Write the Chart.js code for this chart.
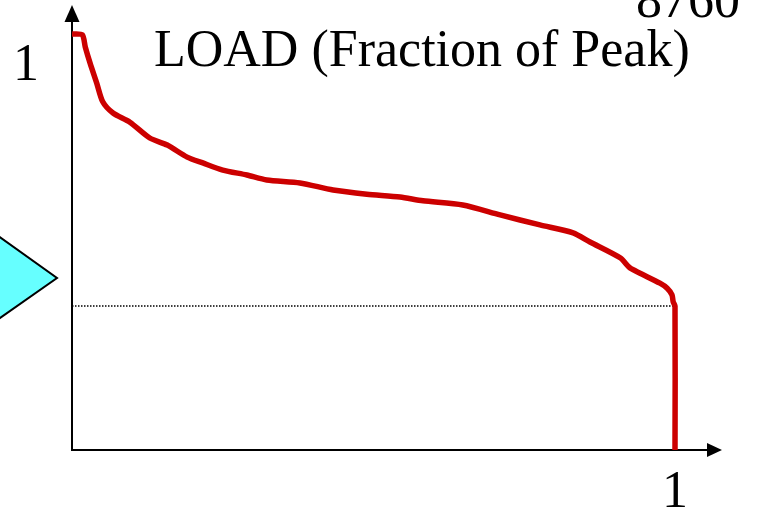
<!DOCTYPE html>
<html lang="en">
<head>
  <meta charset="UTF-8">
  <title>Load Duration Curve</title>
  <script src="https://cdn.jsdelivr.net/npm/chart.js"></script>
  <style>
    html, body { margin: 0; padding: 0; background: #ffffff; }
    .wrap { width: 768px; height: 509px; position: relative; }
  </style>
</head>
<body>
  <div class="wrap">
    <canvas id="ldc" width="768" height="509"></canvas>
  </div>

  <script>
    // fraction of the year (0..1) vs load as fraction of peak
    const durationX = [0, 0.017, 0.022, 0.030, 0.041, 0.051, 0.068, 0.096, 0.129, 0.158,
                       0.191, 0.217, 0.250, 0.290, 0.323, 0.378, 0.433, 0.489, 0.544, 0.582,
                       0.648, 0.710, 0.776, 0.831, 0.859, 0.909, 0.925, 0.942, 0.975, 0.987,
                       0.995, 0.997, 1.0, 1.0];
    const loadY = [1.0, 0.998, 0.969, 0.930, 0.882, 0.837, 0.810, 0.788, 0.750, 0.733,
                   0.704, 0.690, 0.673, 0.661, 0.649, 0.642, 0.625, 0.615, 0.608, 0.599,
                   0.589, 0.565, 0.541, 0.522, 0.500, 0.462, 0.438, 0.425, 0.401, 0.389,
                   0.373, 0.356, 0.346, 0];
    const minLoad = 0.346;
    const titleText = 'LOAD (Fraction of Peak)';
    const hoursText = '8760';
    const yTickLabel = '1';
    const xTickLabel = '1';

    const serif = '"Liberation Serif", "Times New Roman", serif';

    const decor = {
      id: 'decor',
      beforeDatasetsDraw(chart) {
        const c = chart.ctx;
        const x0 = chart.scales.x.getPixelForValue(0);
        const y0 = chart.scales.y.getPixelForValue(0);
        const top = chart.chartArea.top;
        const right = chart.chartArea.right;
        c.save();
        // cyan pointer at the left edge
        c.beginPath();
        c.moveTo(-20, 223);
        c.lineTo(57, 278);
        c.lineTo(-20, 332);
        c.closePath();
        c.fillStyle = '#66ffff';
        c.fill();
        c.lineWidth = 2;
        c.strokeStyle = '#000';
        c.stroke();
        // axes
        c.lineWidth = 2;
        c.beginPath();
        c.moveTo(x0, y0 + 1);
        c.lineTo(x0, top + 16);
        c.moveTo(x0 - 1, y0);
        c.lineTo(right - 14, y0);
        c.stroke();
        c.fillStyle = '#000';
        c.beginPath();
        c.moveTo(x0, top);
        c.lineTo(x0 - 7.5, top + 17);
        c.lineTo(x0 + 7.5, top + 17);
        c.closePath();
        c.fill();
        c.beginPath();
        c.moveTo(right, y0);
        c.lineTo(right - 15, y0 - 7);
        c.lineTo(right - 15, y0 + 7);
        c.closePath();
        c.fill();
        c.restore();
      },
      afterDraw(chart) {
        const c = chart.ctx;
        const x1 = chart.scales.x.getPixelForValue(1);
        const y1 = chart.scales.y.getPixelForValue(1);
        c.save();
        c.fillStyle = '#000';
        c.font = '52px ' + serif;
        c.textBaseline = 'alphabetic';
        c.textAlign = 'left';
        c.fillText(titleText, 154, 66);
        c.fillText(hoursText, 636, 17);
        c.textAlign = 'center';
        c.fillText(yTickLabel, 26, y1 + 46);
        c.fillText(xTickLabel, x1, 507);
        c.restore();
      }
    };

    const ctx = document.getElementById('ldc');
    new Chart(ctx, {
      type: 'line',
      data: {
        datasets: [
          {
            data: durationX.map((x, i) => ({ x: x, y: loadY[i] })),
            borderColor: '#cc0000',
            borderWidth: 5.5,
            pointRadius: 0,
            tension: 0.25,
            fill: false
          },
          {
            data: [{ x: 0, y: minLoad }, { x: 1, y: minLoad }],
            borderColor: '#000',
            borderWidth: 1.5,
            borderDash: [1.5, 1.5],
            pointRadius: 0,
            fill: false
          }
        ]
      },
      options: {
        responsive: false,
        animation: false,
        layout: { padding: { left: 72, right: 46, top: 5, bottom: 59 } },
        plugins: { legend: { display: false }, tooltip: { enabled: false } },
        scales: {
          x: { type: 'linear', min: 0, max: 650 / 603, display: false },
          y: { type: 'linear', min: 0, max: 445 / 416, display: false }
        }
      },
      plugins: [decor]
    });
  </script>
</body>
</html>
